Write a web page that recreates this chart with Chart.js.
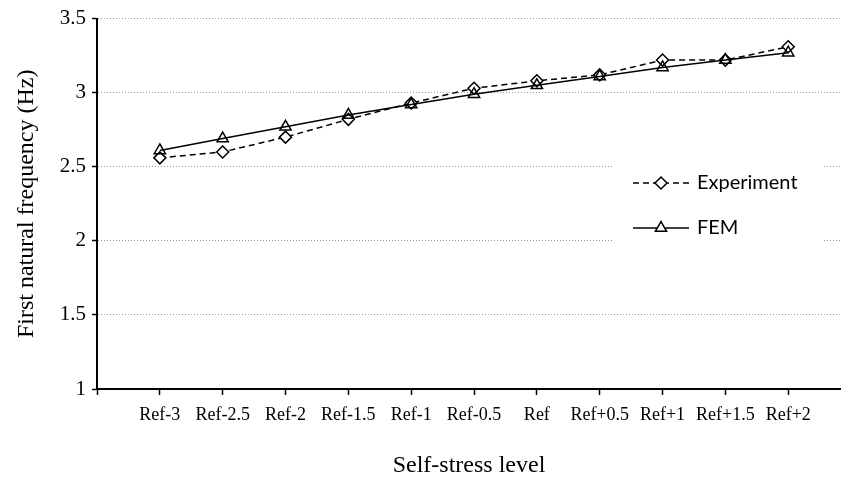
<!DOCTYPE html>
<html>
<head>
<meta charset="utf-8">
<script src="https://cdn.jsdelivr.net/npm/chart.js@4/dist/chart.umd.min.js"></script>
<style>
  html, body { margin: 0; padding: 0; background: #fff; }
  canvas { display: block; }
</style>
</head>
<body>
<canvas id="chart" width="841" height="481"></canvas>
<script>
// Self-stress levels and measured / computed first natural frequencies (Hz)
const categories = ['Ref-3', 'Ref-2.5', 'Ref-2', 'Ref-1.5', 'Ref-1', 'Ref-0.5', 'Ref', 'Ref+0.5', 'Ref+1', 'Ref+1.5', 'Ref+2'];
const experiment = [2.56, 2.60, 2.70, 2.82, 2.93, 3.03, 3.08, 3.12, 3.22, 3.22, 3.31];
const fem = [2.61, 2.69, 2.77, 2.85, 2.92, 2.99, 3.05, 3.11, 3.17, 3.22, 3.27];
const yTicks = [1, 1.5, 2, 2.5, 3, 3.5];

const toPoints = values => values.map((v, i) => ({ x: i + 1, y: v }));

const serif = 'Liberation Serif, Times New Roman, serif';

// Legend drawn at the right side of the plot, on a white box
const sideLegend = {
  id: 'sideLegend',
  afterDatasetsDraw(chart) {
    const ctx = chart.ctx;
    ctx.save();
    ctx.fillStyle = '#fff';
    ctx.fillRect(612, 154, 211, 100);
    const rows = [183, 228];
    chart.data.datasets.forEach((ds, i) => {
      const y = rows[i];
      ctx.strokeStyle = '#000';
      ctx.lineWidth = ds.borderWidth;
      ctx.setLineDash(ds.borderDash || []);
      ctx.beginPath();
      ctx.moveTo(633, y);
      ctx.lineTo(689, y);
      ctx.stroke();
      ctx.setLineDash([]);
      ctx.fillStyle = '#fff';
      ctx.strokeStyle = '#000';
      ctx.lineWidth = ds.pointBorderWidth;
      Chart.helpers.drawPoint(ctx, {
        pointStyle: ds.pointStyle,
        radius: ds.pointRadius,
        rotation: 0,
        borderWidth: ds.pointBorderWidth
      }, 661, y);
      ctx.fillStyle = '#000';
      ctx.font = '20px Lato, "Open Sans", sans-serif';
      ctx.textAlign = 'left';
      ctx.textBaseline = 'middle';
      ctx.fillText(ds.label, 697, y);
    });
    ctx.restore();
  }
};

new Chart(document.getElementById('chart'), {
  type: 'line',
  data: {
    datasets: [
      {
        label: 'Experiment',
        data: toPoints(experiment),
        borderColor: '#000',
        borderWidth: 1.5,
        borderDash: [6, 4],
        pointStyle: 'rectRot',
        pointRadius: 6,
        pointBorderWidth: 1.5,
        pointBorderColor: '#000',
        pointBackgroundColor: '#fff',
        fill: false,
        tension: 0,
        order: 1
      },
      {
        label: 'FEM',
        data: toPoints(fem),
        borderColor: '#000',
        borderWidth: 1.5,
        pointStyle: 'triangle',
        pointRadius: 6.5,
        pointBorderWidth: 1.5,
        pointBorderColor: '#000',
        pointBackgroundColor: 'rgba(255,255,255,0)',
        fill: false,
        tension: 0,
        order: 0
      }
    ]
  },
  options: {
    responsive: false,
    animation: false,
    events: [],
    layout: { autoPadding: false, padding: { top: 17, right: 0, bottom: 0, left: 0 } },
    plugins: {
      legend: { display: false },
      tooltip: { enabled: false }
    },
    scales: {
      x: {
        type: 'linear',
        min: 0,
        max: 11.84,
        afterFit(scale) {
          scale.height = 92;
          scale.paddingLeft = 0;
          scale.paddingRight = 0;
        },
        ticks: {
          stepSize: 1,
          includeBounds: false,
          autoSkip: false,
          maxRotation: 0,
          padding: 9,
          color: '#000',
          font: { family: serif, size: 18 },
          callback: v => (Number.isInteger(v) && categories[v - 1]) ? categories[v - 1] : ''
        },
        grid: {
          drawOnChartArea: false,
          tickLength: 6,
          tickColor: '#000',
          tickWidth: 1.5
        },
        border: { color: '#000', width: 2 },
        title: {
          display: true,
          text: 'Self-stress level',
          color: '#000',
          font: { family: serif, size: 24 },
          padding: { top: 0, bottom: 1 }
        }
      },
      y: {
        min: yTicks[0],
        max: yTicks[yTicks.length - 1],
        afterFit(scale) { scale.width = 97; },
        ticks: {
          stepSize: yTicks[1] - yTicks[0],
          padding: 6,
          color: '#000',
          font: { family: serif, size: 21 },
          callback: v => String(v)
        },
        grid: {
          color: '#9a9a9a',
          lineWidth: 1,
          tickLength: 5,
          tickColor: '#000',
          tickWidth: 1.5,
          tickBorderDash: []
        },
        border: { color: '#000', width: 2, dash: [1, 2] },
        title: {
          display: true,
          text: 'First natural frequency (Hz)',
          color: '#000',
          font: { family: serif, size: 24 },
          padding: { top: 12, bottom: 0 }
        }
      }
    }
  },
  plugins: [sideLegend]
});
</script>
</body>
</html>
